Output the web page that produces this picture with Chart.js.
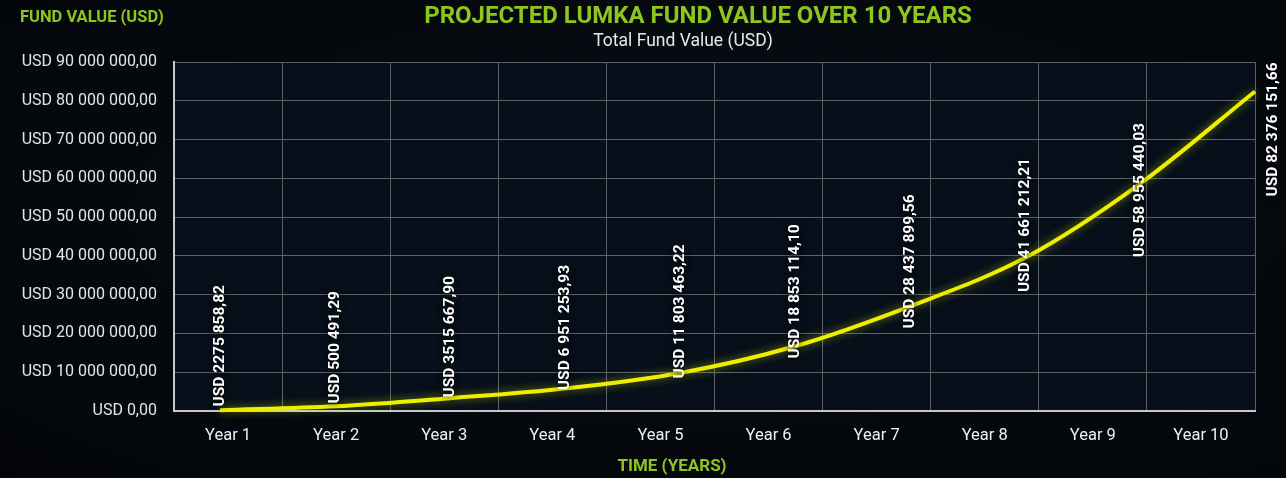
<!DOCTYPE html>
<html>
<head>
<meta charset="utf-8">
<script src="https://cdn.jsdelivr.net/npm/chart.js@4/dist/chart.umd.min.js"></script>
<style>
  html, body { margin: 0; padding: 0; background: #04070b; }
  #wrap { width: 1286px; height: 478px; position: relative;
    background: radial-gradient(ellipse at 55% 45%, #09111a 0%, #05090e 60%, #030508 100%); }
</style>
</head>
<body>
<div id="wrap"><canvas id="chart" width="1286" height="478"></canvas></div>
<script>
// Categories and values
const years = ['Year 1', 'Year 2', 'Year 3', 'Year 4', 'Year 5', 'Year 6', 'Year 7', 'Year 8', 'Year 9', 'Year 10'];
const yearNumbers = [1, 2, 3, 4, 5, 6, 7, 8, 9, 10];
// values
const fundValues = [200000, 1200000, 3300000, 5800000, 9800000, 16700000, 27000000, 39500000, 58600000, 82400000];
// labels as printed on the chart
const valueLabels = ['USD 2275 858,82', 'USD 500 491,29', 'USD 3515 667,90', 'USD 6 951 253,93', 'USD 11 803 463,22',
  'USD 18 853 114,10', 'USD 28 437 899,56', 'USD 41 661 212,21', 'USD 58 955 440,03', 'USD 82 376 151,66'];
const yTicks = [0, 10000000, 20000000, 30000000, 40000000, 50000000, 60000000, 70000000, 80000000, 90000000];

const GREEN = '#8cc61e';
const FONT = 'Roboto, "Noto Sans", sans-serif';

function usd(v) {
  let [int, dec] = v.toFixed(2).split('.');
  let out = int.replace(/\B(?=(\d{3})+(?!\d))/g, ' ');
  return 'USD ' + out + ',' + dec;
}

// plot background + glow for the line
const plotBg = {
  id: 'plotBg',
  beforeDraw(chart) {
    const { ctx, chartArea: a } = chart;
    ctx.save();
    ctx.fillStyle = '#07101a';
    ctx.fillRect(a.left, a.top, a.right - a.left, a.bottom - a.top);
    ctx.restore();
  },
  beforeDatasetDraw(chart) {
    chart.ctx.save();
    chart.ctx.shadowColor = 'rgba(230, 240, 0, 0.5)';
    chart.ctx.shadowBlur = 9;
  },
  afterDatasetDraw(chart) {
    chart.ctx.restore();
  }
};

// texts and rotated value labels
const texts = {
  id: 'texts',
  afterDraw(chart) {
    const { ctx, chartArea: a } = chart;
    ctx.save();
    ctx.textBaseline = 'middle';
    ctx.textAlign = 'center';
    ctx.fillStyle = GREEN;
    ctx.font = 'bold 24px ' + FONT;
    ctx.fillText('PROJECTED LUMKA FUND VALUE OVER 10 YEARS', 698, 17);
    ctx.fillStyle = '#e8e8e8';
    ctx.font = '17.5px ' + FONT;
    ctx.fillText('Total Fund Value (USD)', 683, 42);
    ctx.fillStyle = GREEN;
    ctx.font = 'bold 16.5px ' + FONT;
    ctx.textAlign = 'left';
    ctx.fillText('FUND VALUE (USD)', 20, 18);
    ctx.font = 'bold 17px ' + FONT;
    ctx.textAlign = 'center';
    ctx.fillText('TIME (YEARS)', 672, 467);

    // value labels
    const meta = chart.getDatasetMeta(0);
    ctx.font = 'bold 15.5px ' + FONT;
    ctx.fillStyle = '#ffffff';
    ctx.shadowColor = 'rgba(0,0,0,0.95)';
    ctx.shadowBlur = 6;
    meta.data.forEach((pt, i) => {
      const txt = valueLabels[i];
      const w = ctx.measureText(txt).width;
      let px = pt.x, bottom;
      if (i === meta.data.length - 1) {
        px = pt.x + 18;
        bottom = pt.y + 38 + w / 2;
      } else {
        const d = a.bottom - pt.y;
        bottom = pt.y + Math.max(0.25 * d, 0.0015 * d * d) - 4;
      }
      ctx.save();
      ctx.translate(px, bottom);
      ctx.rotate(-Math.PI / 2);
      ctx.textAlign = 'left';
      ctx.fillText(txt, 0, 0);
      ctx.restore();
    });
    ctx.restore();
  }
};

let ctx = document.getElementById('chart').getContext('2d');
let chart = new Chart(ctx, {
  type: 'line',
  data: {
    labels: years,
    datasets: [{
      label: 'Total Fund Value (USD)',
      data: yearNumbers.map((n, i) => ({ x: n, y: fundValues[i] })),
      xAxisID: 'x2',
      borderColor: '#eeee00',
      borderWidth: 4,
      pointRadius: 0,
      tension: 0.4,
      cubicInterpolationMode: 'monotone',
      clip: false,
      fill: false
    }]
  },
  plugins: [plotBg, texts],
  options: {
    responsive: false,
    animation: false,
    layout: { padding: { top: 62, right: 31, left: 0, bottom: 0 } },
    plugins: {
      legend: { display: false },
      tooltip: { enabled: false }
    },
    scales: {
      x: {
        type: 'category',
        offset: true,
        grid: { color: '#5c6168', lineWidth: 1, offset: true, drawTicks: false },
        border: { color: '#c8c8c8', width: 2 },
        ticks: { color: '#f0f0f0', font: { family: FONT, size: 16.5 }, padding: 15 },
        afterFit(scale) { scale.height = 67; }
      },
      x2: {
        type: 'linear',
        display: false,
        min: 0.6,
        max: 10
      },
      y: {
        min: 0,
        max: 90000000,
        afterBuildTicks(scale) { scale.ticks = yTicks.map(v => ({ value: v })); },
        grid: { color: '#5c6168', lineWidth: 1, drawTicks: false },
        border: { color: '#c8c8c8', width: 2 },
        ticks: {
          color: '#e4e4e4',
          font: { family: FONT, size: 16 },
          padding: 17,
          callback: v => usd(v)
        },
        afterFit(scale) { scale.width = 174; }
      }
    }
  }
});
</script>
</body>
</html>
